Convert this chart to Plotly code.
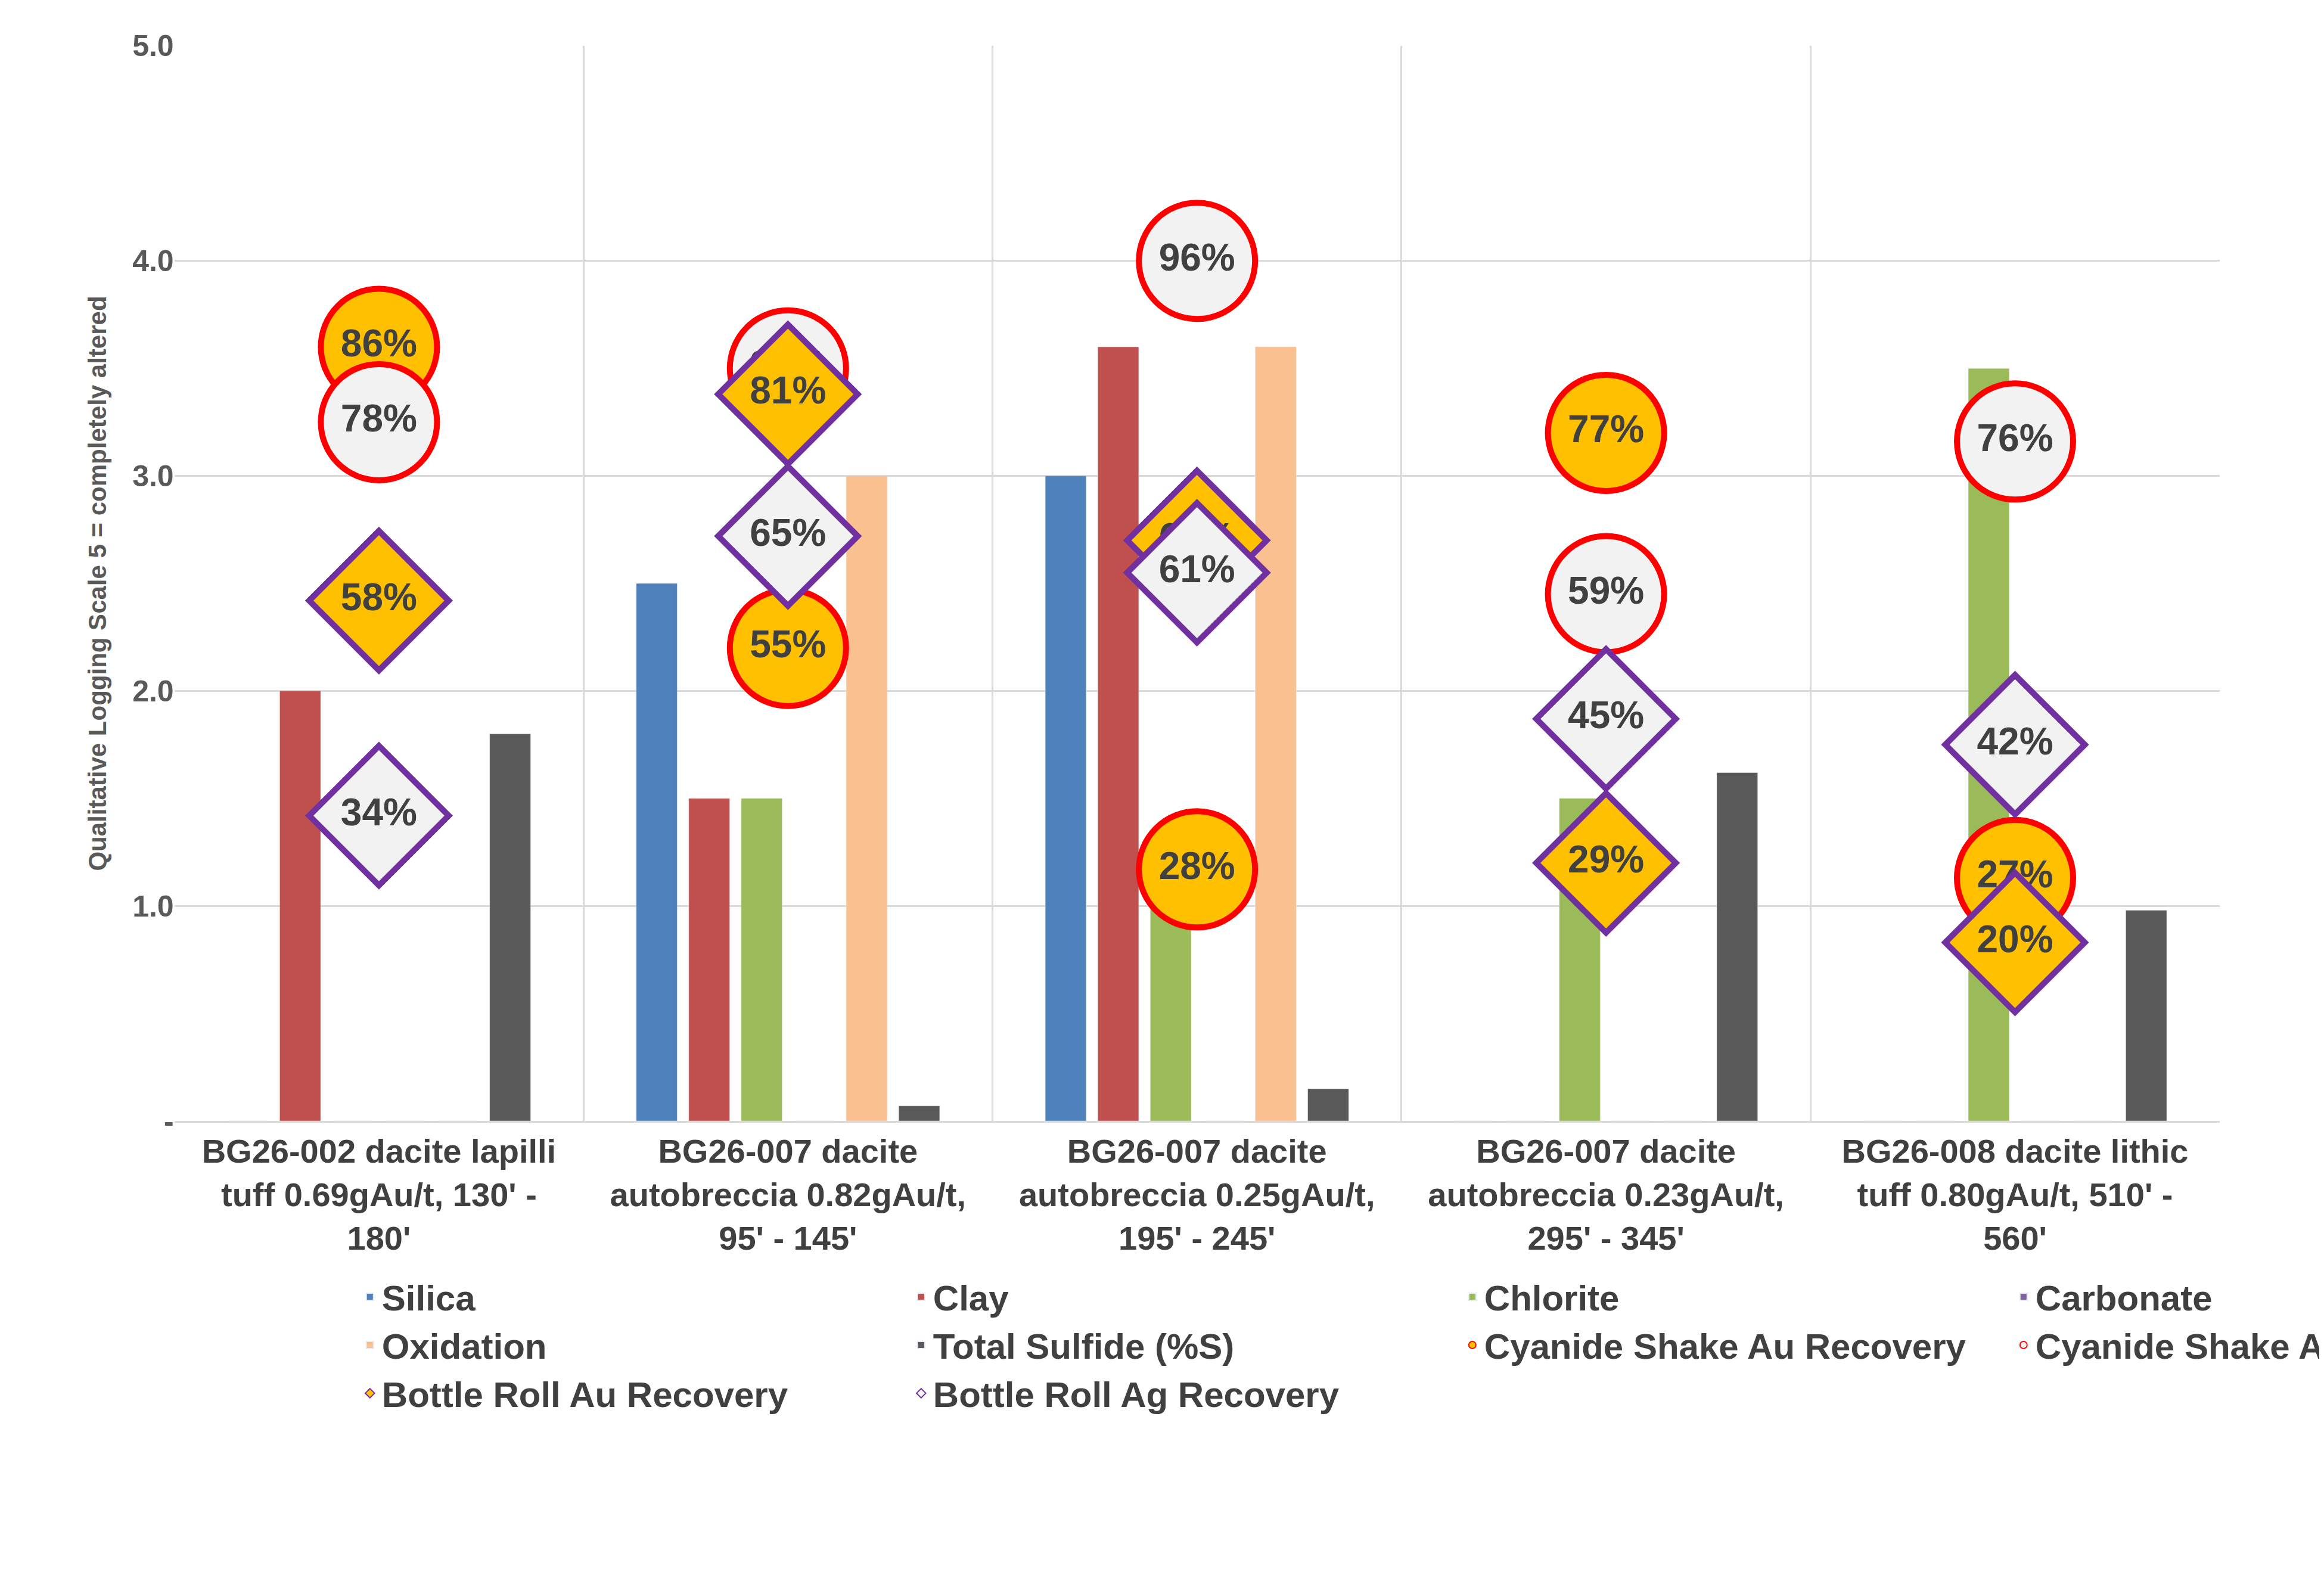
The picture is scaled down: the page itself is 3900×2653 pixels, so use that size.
import plotly.graph_objects as go

categories = ["BG26-002 dacite lapilli<br>tuff 0.69gAu/t, 130' -<br>180'",
              "BG26-007 dacite<br>autobreccia 0.82gAu/t,<br>95' - 145'",
              "BG26-007 dacite<br>autobreccia 0.25gAu/t,<br>195' - 245'",
              "BG26-007 dacite<br>autobreccia 0.23gAu/t,<br>295' - 345'",
              "BG26-008 dacite lithic<br>tuff 0.80gAu/t, 510' -<br>560'"]

silica = [0, 2.5, 3.0, 0, 0]
clay = [2.0, 1.5, 3.6, 0, 0]
chlorite = [0, 1.5, 1.0, 1.5, 3.5]
carbonate = [0, 0, 0, 0, 0]
oxidation = [0, 3.0, 3.6, 0, 0]
sulfide = [1.8, 0.07, 0.15, 1.62, 0.98]

# recovery markers: plotted position and label
shake_au_y = [3.6, 2.2, 1.17, 3.2, 1.13]
shake_au_lbl = ["86%", "55%", "28%", "77%", "27%"]
shake_ag_y = [3.25, 3.5, 4.0, 2.45, 3.16]
shake_ag_lbl = ["78%", "84%", "96%", "59%", "76%"]
roll_au_y = [2.42, 3.38, 2.7, 1.2, 0.83]
roll_au_lbl = ["58%", "81%", "65%", "29%", "20%"]
roll_ag_y = [1.42, 2.72, 2.55, 1.87, 1.75]
roll_ag_lbl = ["34%", "65%", "61%", "45%", "42%"]

xs = list(range(len(categories)))
font = "Liberation Sans, Arial"

fig = go.Figure()
bars = [("Silica", silica, "#4F81BD"), ("Clay", clay, "#C0504D"),
        ("Chlorite", chlorite, "#9BBB59"), ("Carbonate", carbonate, "#8064A2"),
        ("Oxidation", oxidation, "#FAC090"), ("Total Sulfide (%S)", sulfide, "#595959")]
for name, vals, col in bars:
    fig.add_trace(go.Bar(x=xs, y=vals, name=name, marker_color=col))

marks = [("Cyanide Shake Au Recovery", shake_au_y, shake_au_lbl, "circle", "#FFC000", "#FF0000", 195),
         ("Cyanide Shake Ag Recovery", shake_ag_y, shake_ag_lbl, "circle", "#F2F2F2", "#FF0000", 195),
         ("Bottle Roll Au Recovery", roll_au_y, roll_au_lbl, "diamond", "#FFC000", "#7030A0", 180),
         ("Bottle Roll Ag Recovery", roll_ag_y, roll_ag_lbl, "diamond", "#F2F2F2", "#7030A0", 180)]
for name, ys, lbl, sym, fill, line, sz in marks:
    fig.add_trace(go.Scatter(x=xs, y=ys, name=name, mode="markers+text", text=lbl,
                             textposition="middle center",
                             textfont=dict(family=font, size=64, color="#404040", weight="bold"),
                             marker=dict(symbol=sym, size=sz, color=fill,
                                         line=dict(color=line, width=10))))

fig.update_layout(
    width=3900, height=2653, plot_bgcolor="white", paper_bgcolor="white",
    barmode="group", bargap=0.23, bargroupgap=0.22,
    margin=dict(l=0, r=0, t=0, b=0, autoexpand=False),
    font=dict(family=font, color="#595959"),
    xaxis=dict(domain=[0.073, 0.953], range=[-0.5, 4.5], tickvals=xs, ticktext=categories,
               showgrid=False, showline=True, linecolor="#D9D9D9", linewidth=3,
               tickfont=dict(size=56, color="#404040", weight="bold"),
               minor=dict(tickvals=[-0.5, 0.5, 1.5, 2.5, 3.5, 4.5], showgrid=True,
                          gridcolor="#D9D9D9", gridwidth=3, ticks="")),
    yaxis=dict(domain=[0.294, 0.974], range=[0, 5], tickvals=[0, 1, 2, 3, 4, 5],
               ticktext=["-", "1.0", "2.0", "3.0", "4.0", "5.0"],
               gridcolor="#D9D9D9", gridwidth=3, zeroline=False,
               tickfont=dict(size=50, color="#595959", weight="bold"),
               title=dict(text="Qualitative Logging Scale 5 = completely altered",
                          font=dict(size=42, color="#595959", weight="bold"), standoff=30)),
    legend=dict(orientation="h", x=0.152, y=0.2, xanchor="left", yanchor="top",
                entrywidth=880, entrywidthmode="pixels", itemsizing="constant",
                traceorder="normal", font=dict(size=60, color="#404040", weight="bold")),
)
fig.write_html("out.html")
